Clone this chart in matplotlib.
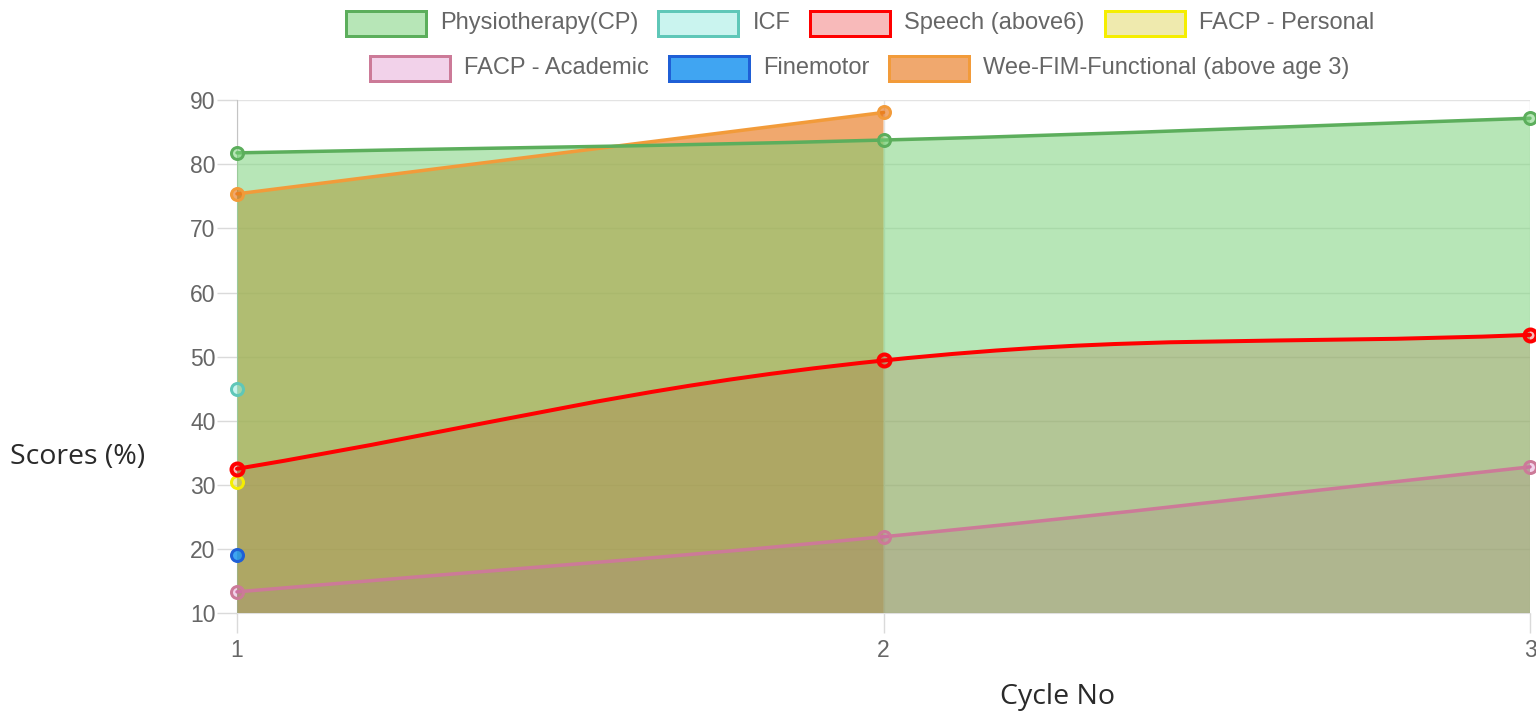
import numpy as np
import matplotlib
matplotlib.use("Agg")
import matplotlib.pyplot as plt
from matplotlib.path import Path
from matplotlib.patches import PathPatch, Rectangle

# ---------------- data ----------------
cycles = [1, 2, 3]
x_labels = ["1", "2", "3"]
physio = [81.8, 83.8, 87.2]
icf = [44.9]
speech = [32.5, 49.4, 53.4]
facp_personal = [30.5]
facp_academic = [13.3, 21.9, 32.8]
finemotor = [19.1]
weefim = [75.4, 88.1]

labels = ["Physiotherapy(CP)", "ICF", "Speech (above6)", "FACP - Personal",
          "FACP - Academic", "Finemotor", "Wee-FIM-Functional (above age 3)"]
series = [physio, icf, speech, facp_personal, facp_academic, finemotor, weefim]

line_colors = ["#5cae5c", "#5fc7b8", "#ff0000", "#f5ee00",
               "#cc7a98", "#1f5fd6", "#f29b3a"]
fill_colors = [(119/255, 209/255, 119/255, 0.53),
               (150/255, 235/255, 225/255, 0.5),
               (230/255, 0.0, 0.0, 0.27),
               (225/255, 215/255, 95/255, 0.5),
               (210/255, 90/255, 180/255, 0.27),
               (30/255, 150/255, 240/255, 0.85),
               (230/255, 110/255, 13/255, 0.6)]
line_px = [3.5, 3, 4, 3, 3.5, 3, 3.5]

W, H = 1536, 719
PT = 0.72  # points per pixel at dpi 100

fig = plt.figure(figsize=(W / 100, H / 100), dpi=100)
ax_l, ax_r, ax_t, ax_b = 237, 1530, 100.3, 613
ax = fig.add_axes([ax_l / W, (H - ax_b) / H, (ax_r - ax_l) / W, (ax_b - ax_t) / H])
ax.set_xlim(1, 3)
ax.set_ylim(10, 90)
ymin = 10

tick_font = "Liberation Sans"
ax.set_yticks(range(10, 91, 10))
ax.set_xticks(cycles)
ax.set_xticklabels(x_labels)
ax.grid(True, color="#e3e3e3", lw=1.0)
ax.set_axisbelow(True)
ax.tick_params(axis="y", length=20 * PT, width=1, color="#dadada",
               labelcolor="#666666", labelsize=16.5, pad=1)
ax.tick_params(axis="x", length=20 * PT, width=1, color="#dadada",
               labelcolor="#666666", labelsize=16.5, pad=4)
for lab in ax.get_xticklabels() + ax.get_yticklabels():
    lab.set_fontfamily(tick_font)
for s in ["top", "right"]:
    ax.spines[s].set_visible(False)
ax.spines["left"].set_color("#c4c4c4")
ax.spines["bottom"].set_color("#e0e0e0")

tension = 0.4


def smooth_verts(xs, ys):
    pts = ax.transData.transform(np.column_stack([xs, ys]))
    n = len(pts)
    x0, y0 = ax.transData.transform((1, 10))
    x1, y1 = ax.transData.transform((3, 90))
    cps = []
    for i in range(n):
        prev = pts[max(i - 1, 0)]
        cur = pts[i]
        nxt = pts[min(i + 1, n - 1)]
        d01 = np.hypot(*(cur - prev))
        d12 = np.hypot(*(nxt - cur))
        s01 = d01 / (d01 + d12)
        s12 = d12 / (d01 + d12)
        fa = tension * s01
        fb = tension * s12
        cp_prev = cur - fa * (nxt - prev)
        cp_next = cur + fb * (nxt - prev)
        for cp in (cp_prev, cp_next):
            cp[0] = min(max(cp[0], x0), x1)
            cp[1] = min(max(cp[1], y0), y1)
        cps.append((cp_prev, cp_next))
    verts = [pts[0]]
    codes = [Path.MOVETO]
    for i in range(n - 1):
        verts += [cps[i][1], cps[i + 1][0], pts[i + 1]]
        codes += [Path.CURVE4] * 3
    verts = ax.transData.inverted().transform(np.array(verts))
    return verts, codes


n_series = len(series)
for idx in range(n_series):
    vals = series[idx]
    xs = cycles[:len(vals)]
    zf = 1 + (n_series - idx)      # first dataset on top
    zl = 20 + (n_series - idx)
    if len(vals) > 1:
        verts, codes = smooth_verts(xs, vals)
        fverts = list(verts) + [(xs[-1], ymin), (xs[0], ymin), verts[0]]
        fcodes = list(codes) + [Path.LINETO, Path.LINETO, Path.CLOSEPOLY]
        ax.add_patch(PathPatch(Path(fverts, fcodes), facecolor=fill_colors[idx],
                               edgecolor="none", zorder=zf))
        ax.add_patch(PathPatch(Path(verts, codes), facecolor="none",
                               edgecolor=line_colors[idx], lw=line_px[idx] * PT,
                               zorder=zl, clip_on=False, capstyle="round",
                               joinstyle="round"))
    ax.plot(xs, vals, linestyle="none", marker="o", markersize=12 * PT,
            markerfacecolor=fill_colors[idx], markeredgecolor=line_colors[idx],
            markeredgewidth=(4 if idx == 2 else 3) * PT, zorder=zl + 10,
            clip_on=False)

# ---------------- axis titles ----------------
fig.text(10 / W, 1 - 457 / H, "Scores (%)", fontfamily="Open Sans", fontsize=20.5,
         color="#2a2a2a", ha="left", va="center")
fig.text(1058 / W, 1 - 697 / H, "Cycle No", fontfamily="Open Sans", fontsize=20.5,
         color="#2a2a2a", ha="center", va="center")

# ---------------- legend (Chart.js style) ----------------
lax = fig.add_axes([0, 0, 1, 1], zorder=50)
lax.set_xlim(0, W)
lax.set_ylim(H, 0)
lax.axis("off")
renderer = fig.canvas.get_renderer()

rows = [[0, 1, 2, 3], [4, 5, 6]]
row_y = [23, 68]
box_w, box_h, gap_txt, pad = 80, 25, 14, 20
center_x = 860
for r, items in enumerate(rows):
    texts = []
    widths = []
    for i in items:
        t = lax.text(0, row_y[r], labels[i], fontfamily=tick_font, fontsize=17,
                     color="#666666", ha="left", va="center")
        texts.append(t)
        widths.append(t.get_window_extent(renderer).width)
    total = sum(box_w + gap_txt + w for w in widths) + pad * (len(items) - 1)
    x = center_x - total / 2
    for t, w, i in zip(texts, widths, items):
        lax.add_patch(Rectangle((x, row_y[r] - box_h / 2), box_w, box_h,
                                facecolor=fill_colors[i], edgecolor=line_colors[i],
                                lw=3 * PT))
        t.set_x(x + box_w + gap_txt)
        x += box_w + gap_txt + w + pad

fig.savefig("out.png", dpi=100)
